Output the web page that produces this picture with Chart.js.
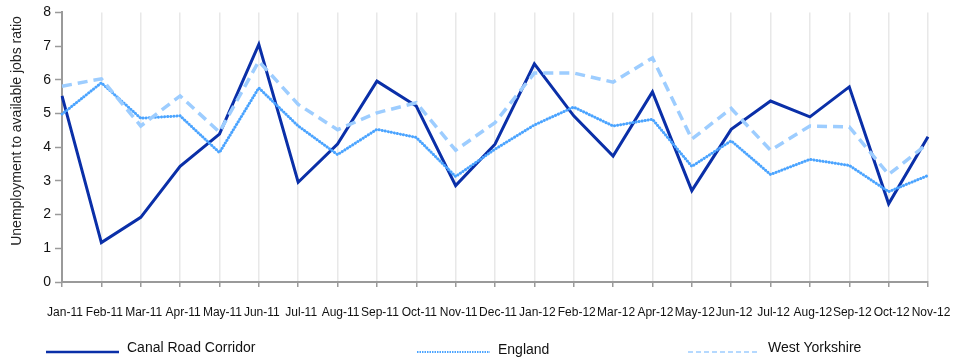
<!DOCTYPE html>
<html>
<head>
<meta charset="utf-8">
<script src="https://cdn.jsdelivr.net/npm/chart.js@4"></script>
<style>
  html, body { margin: 0; padding: 0; background: #fff; }
  #wrap { width: 953px; height: 358px; position: relative; }
</style>
</head>
<body>
<div id="wrap"><canvas id="jobsChart" width="953" height="358"></canvas></div>
<script>
// categorias (meses)
const months = ['Jan-11','Feb-11','Mar-11','Apr-11','May-11','Jun-11','Jul-11','Aug-11','Sep-11','Oct-11','Nov-11','Dec-11',
  'Jan-12','Feb-12','Mar-12','Apr-12','May-12','Jun-12','Jul-12','Aug-12','Sep-12','Oct-12','Nov-12'];

// series
const canalRoad = [5.52, 1.17, 1.92, 3.43, 4.39, 7.05, 2.96, 4.09, 5.96, 5.22, 2.86, 4.09,
  6.47, 4.93, 3.74, 5.64, 2.71, 4.53, 5.37, 4.90, 5.79, 2.32, 4.31];
const england = [4.98, 5.91, 4.86, 4.93, 3.84, 5.76, 4.63, 3.78, 4.53, 4.29, 3.13, 3.94,
  4.66, 5.19, 4.63, 4.83, 3.43, 4.19, 3.19, 3.64, 3.46, 2.68, 3.16];
const westYorkshire = [5.81, 6.03, 4.63, 5.52, 4.45, 6.55, 5.27, 4.52, 5.02, 5.32, 3.91, 4.73,
  6.20, 6.20, 5.93, 6.65, 4.24, 5.15, 3.91, 4.63, 4.60, 3.19, 4.11];

// ticks del eje Y
const yTicks = [0, 1, 2, 3, 4, 5, 6, 7, 8];

const FONT = "'Liberation Sans', Arial, sans-serif";
const axisGrey = '#9a9a9a';

// leyenda y titulo del eje Y dibujados a mano
const extras = {
  id: 'extras',
  afterDraw(chart) {
    const c = chart.ctx;
    c.save();
    // titulo eje Y
    c.fillStyle = '#222';
    c.font = '14px ' + FONT;
    c.textAlign = 'center';
    c.textBaseline = 'middle';
    c.translate(17, 131);
    c.rotate(-Math.PI / 2);
    c.fillText('Unemployment to available jobs ratio', 0, 0);
    c.restore();

    // leyenda
    const items = [
      { ds: 0, x: 46, ly: 352, ty: 348, w: 73, width: 2.5, dash: [] },
      { ds: 1, x: 417, ly: 352, ty: 350, w: 73, width: 2, dash: [1.5, 1] },
      { ds: 2, x: 688, ly: 352, ty: 348, w: 72, width: 1.5, dash: [5, 3] }
    ];
    items.forEach(it => {
      const ds = chart.data.datasets[it.ds];
      c.save();
      c.strokeStyle = ds.borderColor;
      c.lineWidth = it.width;
      c.setLineDash(it.dash);
      c.beginPath();
      c.moveTo(it.x, it.ly);
      c.lineTo(it.x + it.w, it.ly);
      c.stroke();
      c.fillStyle = '#111';
      c.font = '14px ' + FONT;
      c.textAlign = 'left';
      c.textBaseline = 'middle';
      c.fillText(ds.label, it.x + it.w + 8, it.ty);
      c.restore();
    });
  }
};

const ctx = document.getElementById('jobsChart').getContext('2d');
const jobsChart = new Chart(ctx, {
  type: 'line',
  data: {
    labels: months,
    datasets: [
      {
        label: 'Canal Road Corridor',
        data: canalRoad,
        borderColor: '#0a2fa8',
        borderWidth: 3,
        pointRadius: 0,
        tension: 0,
        order: 2
      },
      {
        label: 'England',
        data: england,
        borderColor: '#4ba4ff',
        borderWidth: 3,
        borderDash: [0.1, 3],
        borderCapStyle: 'round',
        pointRadius: 0,
        tension: 0,
        order: 1
      },
      {
        label: 'West Yorkshire',
        data: westYorkshire,
        borderColor: '#9dcdff',
        borderWidth: 3.5,
        borderDash: [10, 6],
        pointRadius: 0,
        tension: 0,
        order: 0
      }
    ]
  },
  options: {
    responsive: false,
    animation: false,
    events: [],
    layout: { padding: { top: 11, right: 25, bottom: 0, left: 0 } },
    plugins: {
      legend: { display: false },
      tooltip: { enabled: false }
    },
    scales: {
      x: {
        offset: false,
        grid: {
          color: '#e8e8e8',
          lineWidth: 1.5,
          tickColor: axisGrey,
          tickWidth: 1.5,
          tickLength: 5
        },
        border: { color: axisGrey, width: 2 },
        ticks: {
          color: '#111',
          font: { family: FONT, size: 12 },
          maxRotation: 0,
          minRotation: 0,
          autoSkip: false,
          padding: 18,
          labelOffset: 3
        },
        afterFit: s => { s.height = 76; s.paddingLeft = 0; s.paddingRight = 0; }
      },
      y: {
        min: 0,
        max: 8,
        afterBuildTicks: s => { s.ticks = yTicks.map(v => ({ value: v })); },
        grid: {
          drawOnChartArea: false,
          tickColor: axisGrey,
          tickWidth: 1.5,
          tickLength: 7
        },
        border: { color: axisGrey, width: 2 },
        ticks: {
          color: '#111',
          font: { family: FONT, size: 14 },
          padding: 4
        },
        afterFit: s => { s.width = 62; }
      }
    }
  },
  plugins: [extras]
});
</script>
</body>
</html>
